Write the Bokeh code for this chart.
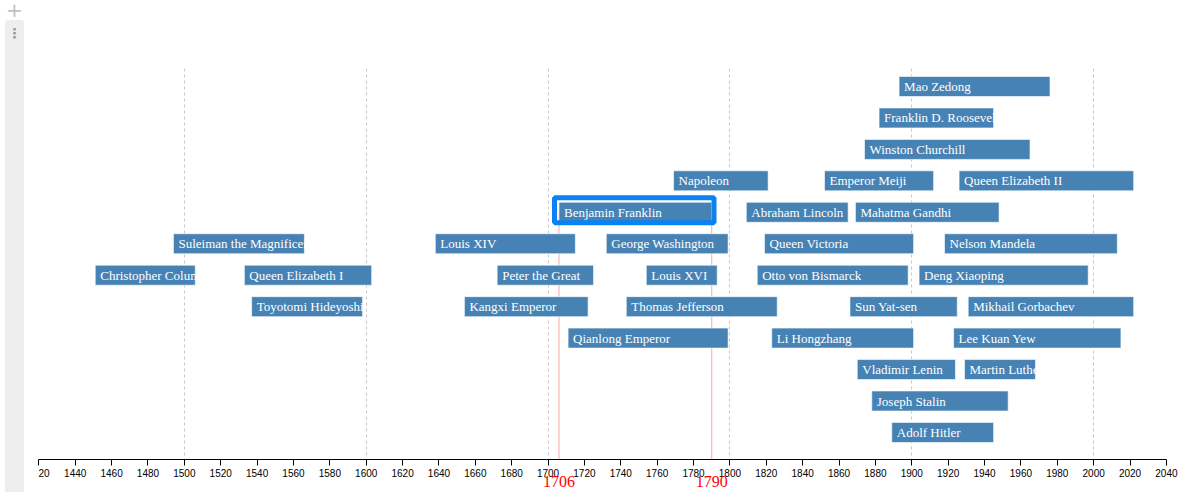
from bokeh.plotting import figure
from bokeh.models import (Range1d, SingleIntervalTicker, FixedTicker, LinearAxis,
                          Div, ColumnDataSource)
from bokeh.layouts import row
from bokeh.core.properties import value
from bokeh.embed import file_html
from bokeh.resources import INLINE

# ---------------- data ----------------
names = [
    "Mao Zedong",
    "Franklin D. Roosevelt",
    "Winston Churchill",
    "Napoleon", "Emperor Meiji", "Queen Elizabeth II",
    "Benjamin Franklin", "Abraham Lincoln", "Mahatma Gandhi",
    "Suleiman the Magnificent", "Louis XIV", "George Washington", "Queen Victoria", "Nelson Mandela",
    "Christopher Columbus", "Queen Elizabeth I", "Peter the Great", "Louis XVI", "Otto von Bismarck", "Deng Xiaoping",
    "Toyotomi Hideyoshi", "Kangxi Emperor", "Thomas Jefferson", "Sun Yat-sen", "Mikhail Gorbachev",
    "Qianlong Emperor", "Li Hongzhang", "Lee Kuan Yew",
    "Vladimir Lenin", "Martin Luther King Jr.",
    "Joseph Stalin",
    "Adolf Hitler",
]
births = [
    1893,
    1882,
    1874,
    1769, 1852, 1926,
    1706, 1809, 1869,
    1494, 1638, 1732, 1819, 1918,
    1451, 1533, 1672, 1754, 1815, 1904,
    1537, 1654, 1743, 1866, 1931,
    1711, 1823, 1923,
    1870, 1929,
    1878,
    1889,
]
deaths = [
    1976,
    1945,
    1965,
    1821, 1912, 2022,
    1790, 1865, 1948,
    1566, 1715, 1799, 1901, 2013,
    1506, 1603, 1725, 1793, 1898, 1997,
    1598, 1722, 1826, 1925, 2022,
    1799, 1901, 2015,
    1924, 1968,
    1953,
    1945,
]
lanes = [
    0,
    1,
    2,
    3, 3, 3,
    4, 4, 4,
    5, 5, 5, 5, 5,
    6, 6, 6, 6, 6, 6,
    7, 7, 7, 7, 7,
    8, 8, 8,
    9, 9,
    10,
    11,
]
highlight = "Benjamin Franklin"
axis_start, axis_end = 1420, 2040
first_tick_label = "20"   # the leftmost tick label is cut off in the original

# ---------------- styling constants ----------------
BAR_COLOR = "#4682b4"
HL_COLOR = "#0a82f2"
Y_BOTTOM, Y_TOP = 11.86, -0.572

src = ColumnDataSource(dict(name=names, birth=births, death=deaths, lane=lanes))
hi = names.index(highlight)
hb, hd, hl = births[hi], deaths[hi], lanes[hi]

p = figure(width=1157, height=492, output_backend="svg", toolbar_location=None,
           x_range=Range1d(1419.8, 2056.0), y_range=Range1d(Y_BOTTOM, Y_TOP),
           min_border_left=0, min_border_right=0, min_border_top=68,
           min_border_bottom=33, y_axis_location=None, outline_line_color=None,
           background_fill_color="white", border_fill_color="white")

# axis
ax = p.xaxis[0]
ax.ticker = SingleIntervalTicker(interval=20, num_minor_ticks=0)
ax.bounds = (axis_start, axis_end)
ax.minor_tick_line_color = None
ax.major_tick_in = 0
ax.major_tick_out = 6
ax.major_label_standoff = 3
ax.major_label_text_font = "Liberation Sans"
ax.major_label_text_font_size = "10px"
ax.major_label_text_color = "#000000"
ax.major_label_overrides = {axis_start: first_tick_label}
ax.axis_line_color = "#000000"
ax.major_tick_line_color = "#000000"

# grid
p.xgrid.ticker = SingleIntervalTicker(interval=100, num_minor_ticks=0)
p.xgrid.grid_line_color = "#c8c8c8"
p.xgrid.grid_line_dash = "3 3"
p.xgrid.grid_line_width = 1
p.ygrid.visible = False

# red birth/death axis for the highlighted person
ax2 = LinearAxis(ticker=FixedTicker(ticks=[hb, hd]),
                 axis_line_color=None, major_tick_line_color=None,
                 minor_tick_line_color=None, major_tick_in=0, major_tick_out=0,
                 major_label_standoff=-4, major_label_text_color="#ff0000",
                 major_label_text_font="Liberation Serif",
                 major_label_text_font_size="16px")
p.add_layout(ax2, "below")

# red marker lines
p.segment(x0=[hb, hd], y0=[hl, hl], x1=[hb, hd], y1=[Y_BOTTOM, Y_BOTTOM],
          line_color="#ff0000", line_alpha=0.35, line_width=1)

# bars
p.hbar(y="lane", left="birth", right="death", height=0.636, source=src,
       fill_color=BAR_COLOR, line_color="white", line_alpha=0.6, line_width=1)

# labels
p.text(x="birth", y="lane", text="name", source=src, x_offset=5,
       text_baseline="middle", text_align="left",
       text_font=value("Liberation Serif"), text_font_size="13px",
       text_color="white")

# highlight box
p.rect(x=[(hb + hd) / 2 - 0.6], y=[hl - 0.064], width=[hd - hb + 3.7],
       height=[0.795], fill_color=None, line_color=HL_COLOR, line_width=5)

# left notebook strip
side = Div(width=38, height=492, margin=(0, 0, 0, 0), text=(
    '<div style="position:relative;width:38px;height:492px;">'
    '<div style="position:absolute;left:5px;top:0px;width:19px;height:20px;'
    'text-align:center;color:#c0c0c0;font:20px/20px \'DejaVu Sans\',sans-serif;">+</div>'
    '<div style="position:absolute;left:5px;top:20px;width:19px;height:472px;'
    'background:#eeeeee;border-radius:3px 3px 0 0;text-align:center;color:#9a9a9a;'
    'font:bold 14px/26px \'DejaVu Sans\',sans-serif;">&#8942;</div>'
    '</div>'))

layout = row(side, p, spacing=0)
open("out.html", "w").write(file_html(layout, INLINE))
